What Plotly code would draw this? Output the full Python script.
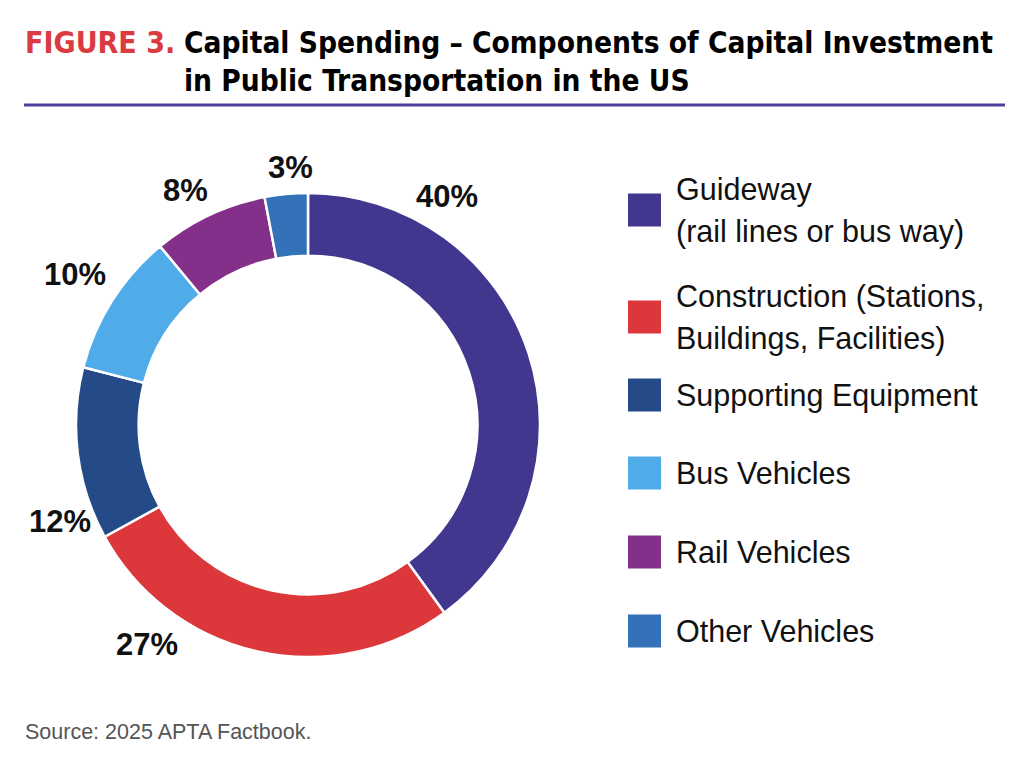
import plotly.graph_objects as go

# ---- data ----
categories = ["Guideway<br>(rail lines or bus way)",
              "Construction (Stations,<br>Buildings, Facilities)",
              "Supporting Equipment",
              "Bus Vehicles",
              "Rail Vehicles",
              "Other Vehicles"]
shares = [40, 27, 12, 10, 8, 3]
colors = ["#41378F", "#DC383B", "#244A88", "#50ACE8", "#84308B", "#3371B8"]

title_prefix = "FIGURE 3."
title_lines = ["Capital Spending \u2013 Components of Capital Investment",
               "in Public Transportation in the US"]
source_text = "Source: 2025 APTA Factbook."

# ---- layout helpers (pixel positions on the 1024x763 window) ----
W, H = 1024, 763
OFF = 8  # page body margin
def px(x):
    return (x - OFF) / W
def py(y):
    return 1 - (y - OFF) / H

# label positions for the percentage texts (pixels)
label_pos = [(447, 196), (147, 644), (60, 521), (75, 275), (185, 190), (290, 167)]
# legend entry vertical centres (pixels)
legend_y = [210, 317, 395, 473, 552, 631]

cx, cy, r = 308, 425, 232

fig = go.Figure()
fig.add_trace(go.Pie(
    labels=categories,
    values=shares,
    sort=False,
    direction="clockwise",
    rotation=0,
    hole=0.73,
    marker=dict(colors=colors, line=dict(color="white", width=2.5)),
    textinfo="none",
    hoverinfo="label+percent",
    showlegend=False,
    domain=dict(x=[px(cx - r), px(cx + r)], y=[py(cy + r), py(cy - r)]),
))

annotations = []
shapes = []

# percentage labels
for v, (lx, ly) in zip(shares, label_pos):
    annotations.append(dict(
        x=px(lx), y=py(ly), xref="paper", yref="paper",
        text=f"<b>{v}%</b>", showarrow=False,
        xanchor="center", yanchor="middle",
        font=dict(family="Liberation Sans, Arial, sans-serif", size=31, color="#111111"),
    ))

# legend
line_h = 42
for cat, col, yc in zip(categories, colors, legend_y):
    shapes.append(dict(type="rect", xref="paper", yref="paper",
                       x0=px(628), x1=px(661), y0=py(yc + 16.5), y1=py(yc - 16.5),
                       fillcolor=col, line=dict(width=0)))
    lines = cat.split("<br>")
    n = len(lines)
    for i, t in enumerate(lines):
        ty = yc + (i - (n - 1) / 2) * line_h
        annotations.append(dict(
            x=px(674), y=py(ty), xref="paper", yref="paper",
            text=t, showarrow=False, xanchor="left", yanchor="middle",
            font=dict(family="Liberation Sans, Arial, sans-serif", size=30.5, color="#111111"),
        ))

# title
tfont = "DejaVu Sans Condensed, Liberation Sans Narrow, sans-serif"
annotations.append(dict(
    x=px(23), y=py(43), xref="paper", yref="paper",
    text=f"<b>{title_prefix}</b>", showarrow=False, xanchor="left", yanchor="middle",
    font=dict(family=tfont, size=30, color="#DB3A40"),
))
for i, t in enumerate(title_lines):
    annotations.append(dict(
        x=px(182), y=py(43 + i * 38), xref="paper", yref="paper",
        text=f"<b>{t}</b>", showarrow=False, xanchor="left", yanchor="middle",
        font=dict(family=tfont, size=29.6, color="#000000"),
    ))

# rule under title
shapes.append(dict(type="line", xref="paper", yref="paper",
                   x0=px(24), x1=px(1005), y0=py(105), y1=py(105),
                   line=dict(color="#4B3F9E", width=3)))

# source
annotations.append(dict(
    x=px(23), y=py(732), xref="paper", yref="paper",
    text=source_text, showarrow=False, xanchor="left", yanchor="middle",
    font=dict(family="Liberation Sans, Arial, sans-serif", size=21.5, color="#555555"),
))

fig.update_layout(
    width=W, height=H,
    margin=dict(l=0, r=0, t=0, b=0),
    paper_bgcolor="white", plot_bgcolor="white",
    annotations=annotations, shapes=shapes,
)

fig.write_html("out.html", config={"displayModeBar": False})
